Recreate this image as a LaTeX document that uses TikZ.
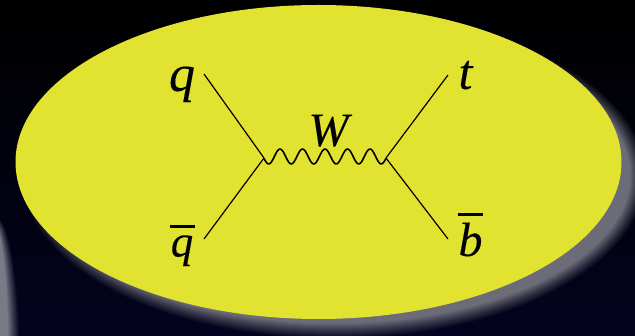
\documentclass[tikz,border=0pt]{standalone}
\usepackage{fontspec}
\setmainfont{Liberation Serif}[ItalicFeatures={FakeBold=0.15}]
\usetikzlibrary{shadings}
\definecolor{ovalyellow}{RGB}{226,227,48}
\definecolor{shadowgrey}{RGB}{108,108,120}
\definecolor{stripgrey}{RGB}{122,122,136}
\definecolor{bgnavy}{RGB}{3,3,32}
\newcommand\barred[1]{\vbox{\hrule height 3pt width 25pt \kern 7pt \hbox to 25pt{\hss\textit{#1}\hss}}}
\tikzset{
  lab/.style={anchor=base,inner sep=0pt,outer sep=0pt,font=\fontsize{48}{50}\selectfont\itshape,text=black},
  fermion/.style={draw=black,line width=1.2pt},
  boson/.style={draw=black,line width=1.6pt,line join=round},
}
\begin{document}
\begin{tikzpicture}[x=1pt,y=-1pt]
\useasboundingbox (0,0) rectangle (635,336);
\clip (0,0) rectangle (635,336);
\fill[top color=black,bottom color=bgnavy,middle color=black!55!bgnavy] (0,0) rectangle (635,336);
% blurred strip at the lower left
\foreach \i in {1,...,12}{
  \pgfmathsetmacro\al{0.98/(13-\i)}
  \fill[stripgrey,opacity=\al] (-5,360) ellipse ({25.5-\i} and {144.5-\i});
}
% blurred shadow of the oval
\foreach \i in {1,...,16}{
  \pgfmathsetmacro\al{1/(17-\i)}
  \fill[shadowgrey,opacity=\al] (334,176) ellipse ({312.5-\i} and {163.5-\i});
}
\fill[ovalyellow] (318.5,162) ellipse (303 and 157);
% vertices and free ends
\coordinate (v1) at (264,158);
\coordinate (v2) at (386,158);
\coordinate (qend) at (204,74);
\coordinate (qbarend) at (204,239);
\coordinate (tend) at (448,75);
\coordinate (bend) at (448,239);
\draw[fermion] (qend) -- (v1);
\draw[fermion] (qbarend) -- (v1);
\draw[fermion] (tend) -- (v2);
\draw[fermion] (bend) -- (v2);
\draw[boson] plot[smooth,domain=264:386,samples=90,variable=\x] (\x,{156.5-7.5*cos(16*(\x-280))});
\node[lab,font=\fontsize{52}{54}\selectfont\itshape] (q) at (182,91) {q};
\node[lab,font=\fontsize{45}{50}\selectfont\itshape] (qbar) at (182,256.5) {\barred{q}};
\node[lab,font=\fontsize{50}{52}\selectfont\itshape] (t) at (465.5,89) {t};
\node[lab] (b) at (470.5,256) {\barred{b}};
\node[lab] (w) at (328.5,146) {W};
\end{tikzpicture}
\end{document}
